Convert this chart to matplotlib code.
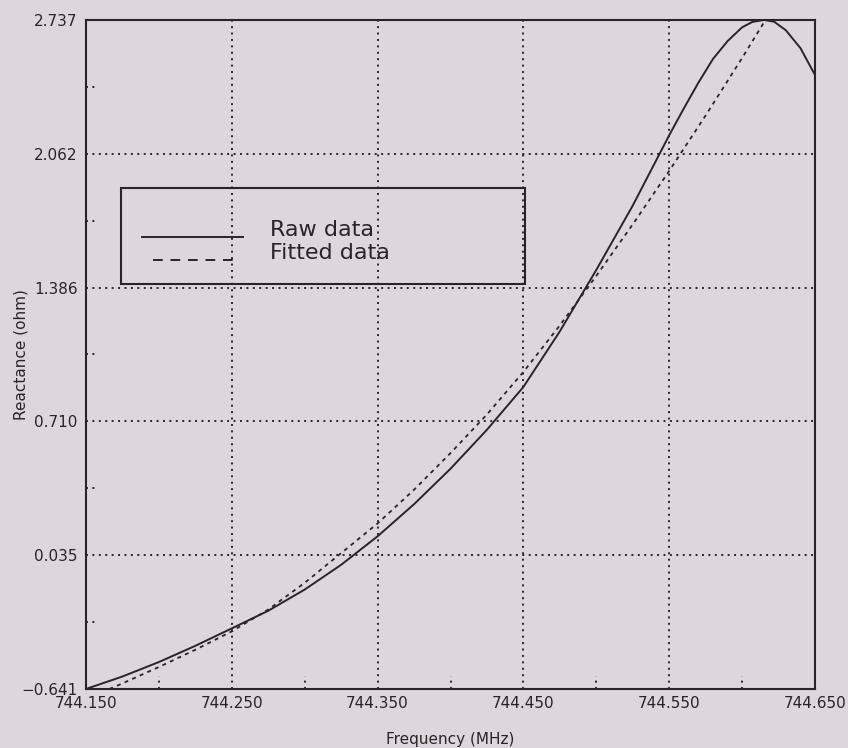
import matplotlib
matplotlib.use("Agg")
import matplotlib.pyplot as plt
from matplotlib.patches import Rectangle

# Measured reactance (raw) and model fit around the resonance
freq_raw = [744.150, 744.175, 744.200, 744.225, 744.250, 744.275, 744.300,
            744.325, 744.350, 744.375, 744.400, 744.425, 744.450, 744.475,
            744.500, 744.525, 744.550, 744.560, 744.570, 744.580, 744.590,
            744.600, 744.607, 744.615, 744.622, 744.630, 744.640, 744.650]
react_raw = [-0.641, -0.578, -0.505, -0.423, -0.335, -0.246, -0.139,
             -0.014, 0.130, 0.292, 0.471, 0.668, 0.884, 1.165,
             1.475, 1.800, 2.155, 2.290, 2.420, 2.540, 2.630,
             2.700, 2.727, 2.737, 2.728, 2.685, 2.595, 2.459]

freq_fit = [744.166, 744.175, 744.200, 744.225, 744.250, 744.275, 744.300,
            744.325, 744.350, 744.375, 744.400, 744.425, 744.450, 744.475,
            744.500, 744.525, 744.550, 744.575, 744.600, 744.616]
react_fit = [-0.641, -0.613, -0.530, -0.443, -0.350, -0.240, -0.105,
             0.045, 0.195, 0.365, 0.550, 0.745, 0.960, 1.195,
             1.445, 1.705, 1.975, 2.255, 2.545, 2.737]

x_ticks = [744.150, 744.250, 744.350, 744.450, 744.550, 744.650]
y_ticks = [-0.641, 0.035, 0.710, 1.386, 2.062, 2.737]
legend_labels = ["Raw data", "Fitted data"]

paper = "#ddd7db"
ink = "#2a2427"

fig = plt.figure(figsize=(8.48, 7.48), dpi=100, facecolor=paper)
ax = fig.add_axes([0.1014, 0.0789, 0.8597, 0.8944], facecolor=paper)

ax.plot(freq_raw, react_raw, color=ink, lw=1.4, solid_joinstyle="round")
ax.plot(freq_fit, react_fit, color=ink, lw=1.3, linestyle=(0, (2.2, 2.4)))

ax.set_xlim(x_ticks[0], x_ticks[-1])
ax.set_ylim(y_ticks[0], y_ticks[-1])

ax.set_xticks(x_ticks)
ax.set_xticklabels([f"{v:.3f}" for v in x_ticks])
ax.set_yticks(y_ticks)
ax.set_yticklabels([f"{v:.3f}".replace("-", "\u2212") for v in y_ticks])
ax.tick_params(length=0, labelsize=11, labelcolor=ink, pad=6)
ax.tick_params(axis="x", pad=5)

ax.grid(True, color=ink, linestyle=(0, (1, 2.3)), linewidth=1.4)
for sp in ax.spines.values():
    sp.set_color(ink)
    sp.set_linewidth(1.5)

# short dotted minor ticks halfway between the grid lines
x_minor = [(a + b) / 2 for a, b in zip(x_ticks[:-1], x_ticks[1:])]
y_minor = [(a + b) / 2 for a, b in zip(y_ticks[:-1], y_ticks[1:])]
ax.vlines(x_minor, 0, 0.02, transform=ax.get_xaxis_transform(),
          colors=ink, linestyles=(0, (1, 2.3)), linewidth=1.4)
ax.hlines(y_minor, 0, 0.014, transform=ax.get_yaxis_transform(),
          colors=ink, linestyles=(0, (1, 2.3)), linewidth=1.4)

ax.set_xlabel("Frequency (MHz)", fontsize=11, color=ink)
ax.set_ylabel("Reactance (ohm)", fontsize=11, color=ink)
ax.xaxis.set_label_coords(0.5, -0.075)
ax.xaxis.label.set(va="center", ha="center")
ax.yaxis.set_label_coords(-0.089, 0.5)
ax.yaxis.label.set(va="center", ha="center", rotation_mode="anchor")

# legend box drawn over the grid
ax.add_patch(Rectangle((0.048, 0.605), 0.554, 0.144, transform=ax.transAxes,
                       fill=False, edgecolor=ink, linewidth=1.5, zorder=5))
ax.plot([0.077, 0.215], [0.676, 0.676], transform=ax.transAxes,
        color=ink, lw=1.4, zorder=5)
ax.plot([0.092, 0.204], [0.641, 0.641], transform=ax.transAxes,
        color=ink, lw=1.4, linestyle=(0, (5, 4)), zorder=5)
ax.text(0.252, 0.686, legend_labels[0], transform=ax.transAxes,
        fontsize=16, color=ink, va="center", ha="left", zorder=5)
ax.text(0.252, 0.652, legend_labels[1], transform=ax.transAxes,
        fontsize=16, color=ink, va="center", ha="left", zorder=5)

fig.savefig("out.png", dpi=100, facecolor=paper)
